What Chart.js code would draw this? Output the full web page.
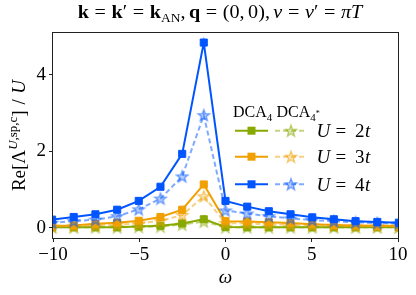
<!DOCTYPE html>
<html><head><meta charset="utf-8">
<script src="https://cdn.jsdelivr.net/npm/chart.js@4.4.1/dist/chart.umd.min.js"></script>
<style>html,body{margin:0;padding:0;background:#fff;}canvas{display:block;}</style>
</head><body>
<canvas id="c" width="416" height="295"></canvas>
<script>
// ---- data ----
const omega     = [-10.05,-8.80,-7.54,-6.28,-5.03,-3.77,-2.51,-1.26,0,1.26,2.51,3.77,5.03,6.28,7.54,8.80,10.05];
const dca4_U2   = [0.01,0.01,0.01,0.01,0.03,0.05,0.11,0.22,0.02,0.01,0.01,0.01,0.01,0.01,0.01,0.01,0.01];
const dca4s_U2  = [0.01,0.01,0.01,0.01,0.02,0.03,0.08,0.16,0.01,0.01,0.01,0.01,0.01,0.01,0.01,0.01,0.01];
const dca4_U3   = [0.05,0.06,0.10,0.13,0.18,0.28,0.47,1.13,0.17,0.16,0.14,0.12,0.09,0.07,0.06,0.05,0.05];
const dca4s_U3  = [0.03,0.04,0.06,0.08,0.11,0.18,0.33,0.82,0.12,0.11,0.09,0.07,0.06,0.05,0.04,0.04,0.03];
const dca4_U4   = [0.21,0.28,0.35,0.47,0.70,1.07,1.93,4.84,0.70,0.55,0.43,0.35,0.27,0.22,0.17,0.15,0.13];
const dca4s_U4  = [0.13,0.17,0.21,0.30,0.48,0.76,1.34,2.94,0.45,0.37,0.30,0.24,0.20,0.17,0.14,0.12,0.11];
const uLabels   = ['2','3','4'];
const xTicks    = [-10,-5,0,5,10];
const yTicks    = [0,2,4];

const SERIF = '"Liberation Serif","DejaVu Serif",serif';
const COLORS = [[136,170,0],[240,160,0],[0,85,255]];
const rgba = (c,a)=>`rgba(${c[0]},${c[1]},${c[2]},${a})`;

function starImg(c, R){
  const s = Math.ceil(2*R+4);
  const cv = document.createElement('canvas'); cv.width = cv.height = s;
  const g = cv.getContext('2d');
  const cx = s/2, cy = s/2 + R*0.08, r = R*0.42;
  g.beginPath();
  for (let k=0;k<10;k++){
    const rad = k%2===0 ? R : r;
    const a = -Math.PI/2 + k*Math.PI/5;
    const px = cx + rad*Math.cos(a), py = cy + rad*Math.sin(a);
    k===0 ? g.moveTo(px,py) : g.lineTo(px,py);
  }
  g.closePath();
  g.fillStyle = rgba(c,0.28); g.fill();
  g.lineWidth = 1.4; g.strokeStyle = rgba(c,0.55); g.stroke();
  return cv;
}
const stars = COLORS.map(c=>starImg(c,6));

const pts = arr => omega.map((x,i)=>({x, y: arr[i]}));
const solidSets = [dca4_U2, dca4_U3, dca4_U4];
const starSets  = [dca4s_U2, dca4s_U3, dca4s_U4];
const datasets = [];
for (let k=0;k<3;k++){
  datasets.push({
    label:'DCA4 U='+uLabels[k]+'t', data: pts(solidSets[k]),
    borderColor: rgba(COLORS[k],1), backgroundColor: rgba(COLORS[k],1),
    borderWidth: 2, pointStyle:'rect', pointRadius:5, pointBorderWidth:1,
    pointBackgroundColor: rgba(COLORS[k],1), pointBorderColor: rgba(COLORS[k],1),
    order: 6-2*k, tension:0
  });
  datasets.push({
    label:'DCA4* U='+uLabels[k]+'t', data: pts(starSets[k]),
    borderColor: rgba(COLORS[k],0.5), backgroundColor: rgba(COLORS[k],0.5),
    borderWidth: 2, borderDash:[5,3], pointStyle: stars[k], pointRadius:6,
    order: 5-2*k, tension:0
  });
}

// rich text helper
function runsWidth(ctx, runs){
  let w=0; for (const r of runs){ if (r.sp!==undefined){ w+=r.sp; continue;} ctx.font=r.f; w+=ctx.measureText(r.t).width; } return w;
}
function drawRuns(ctx, runs, x, y){
  for (const r of runs){
    if (r.sp!==undefined){ x+=r.sp; continue; }
    ctx.font=r.f; ctx.fillText(r.t, x, y+(r.dy||0)); x+=ctx.measureText(r.t).width;
  }
  return x;
}
const mk = size => ({
  n: t=>({t, f:`${size}px ${SERIF}`}),
  b: t=>({t, f:`bold ${size}px ${SERIF}`}),
  i: t=>({t, f:`italic ${size}px ${SERIF}`}),
  s: (t,sz,dy,st)=>({t, f:`${st||''} ${sz}px ${SERIF}`, dy}),
  sp: em=>({sp: em*size})
});

const deco = {
  id:'deco',
  afterDraw(chart){
    const ctx = chart.ctx, a = chart.chartArea;
    ctx.save();
    // frame
    ctx.strokeStyle='#222'; ctx.lineWidth=1;
    ctx.strokeRect(a.left-0.5, a.top-0.5, a.right-a.left+1, a.bottom-a.top+1);
    ctx.fillStyle='#000'; ctx.textBaseline='alphabetic';
    // title
    {
      const m = mk(18);
      const rel = t=>[m.sp(0.28), m.n(t), m.sp(0.28)];
      const runs = [m.b('k'), ...rel('='), m.b('k'), m.n('′'), ...rel('='), m.b('k'), m.s('AN',12,4),
        m.n(','), m.sp(0.17), m.b('q'), ...rel('='), m.n('(0,'), m.sp(0.17), m.n('0)'), m.n(','), m.sp(0.17),
        m.i('ν'), ...rel('='), m.i('ν'), m.n('′'), ...rel('='), m.i('π'), m.i('T')];
      const w = runsWidth(ctx, runs);
      const target = 313;
      const sx = Math.max(0.9, Math.min(1.12, target/w));
      ctx.save(); ctx.translate(220 - w*sx/2, 17.5); ctx.scale(sx,1);
      drawRuns(ctx, runs, 0, 0); ctx.restore();
    }
    // y label
    {
      const m = mk(19);
      const runs = [m.n('Re[Λ'), m.s('U',13,-8,'italic'), m.s(',sp,c',13,-8), m.n(']'), m.sp(0.3), m.n('/'), m.sp(0.3), m.i('U')];
      const w = runsWidth(ctx, runs);
      ctx.save(); ctx.translate(25, (a.top+a.bottom)/2); ctx.rotate(-Math.PI/2);
      drawRuns(ctx, runs, -w/2, 0); ctx.restore();
    }
    // x label
    {
      ctx.font = `italic 19px ${SERIF}`; ctx.textAlign='center';
      ctx.fillText('ω', (a.left+a.right)/2, 283); ctx.textAlign='left';
    }
    // legend
    {
      const hm = mk(16);
      drawRuns(ctx, [hm.n('DCA'), hm.s('4',11,4)], 233, 116.5);
      drawRuns(ctx, [hm.n('DCA'), hm.s('4',11,4), hm.s('*',8,-1)], 276.5, 116.5);
      const rows = [130.7, 156.7, 184.3];
      for (let k=0;k<3;k++){
        const y = rows[k], c = COLORS[k];
        ctx.strokeStyle = rgba(c,1); ctx.lineWidth=2; ctx.setLineDash([]);
        ctx.beginPath(); ctx.moveTo(235,y); ctx.lineTo(268,y); ctx.stroke();
        ctx.fillStyle = rgba(c,1); ctx.fillRect(251.5-4, y-4, 8, 8);
        ctx.strokeStyle = rgba(c,0.5); ctx.setLineDash([5,3]);
        ctx.beginPath(); ctx.moveTo(275,y); ctx.lineTo(307,y); ctx.stroke(); ctx.setLineDash([]);
        const im = stars[k]; ctx.drawImage(im, 291-im.width/2, y-im.height/2);
        ctx.fillStyle='#000';
        ctx.font = `italic 19px ${SERIF}`; ctx.fillText('U', 316.5, y+6.3);
        ctx.font = `19px ${SERIF}`; ctx.fillText('=', 335.5, y+6.3);
        ctx.fillText(uLabels[k], 355, y+6.3);
        const w2 = ctx.measureText(uLabels[k]).width;
        ctx.font = `italic 19px ${SERIF}`; ctx.fillText('t', 355+w2+0.5, y+6.3);
      }
    }
    ctx.restore();
  }
};

const fmt = v => (v<0 ? '\u2212'+Math.abs(v) : String(v));
new Chart(document.getElementById('c'), {
  type:'line',
  data:{ datasets },
  options:{
    responsive:false, animation:false, devicePixelRatio:1, events:[],
    layout:{ padding:{ top:33, right:18, left:0, bottom:0 } },
    plugins:{ legend:{display:false}, title:{display:false}, tooltip:{enabled:false} },
    scales:{
      x:{ type:'linear', min:-10, max:10,
        afterBuildTicks: s=>{ s.ticks = xTicks.map(v=>({value:v})); },
        afterFit: s=>{ s.height = 57; },
        ticks:{ color:'#000', font:{family:SERIF, size:19}, padding:2, maxRotation:0, callback: fmt },
        grid:{ drawOnChartArea:false, drawTicks:true, tickLength:4, color:'#222', tickColor:'#222', tickWidth:1 },
        border:{ display:false }
      },
      y:{ type:'linear', min:-0.27, max:5.09,
        afterBuildTicks: s=>{ s.ticks = yTicks.map(v=>({value:v})); },
        afterFit: s=>{ s.width = 53; },
        ticks:{ color:'#000', font:{family:SERIF, size:19}, padding:3, callback: fmt },
        grid:{ drawOnChartArea:false, drawTicks:true, tickLength:4, color:'#222', tickColor:'#222', tickWidth:1 },
        border:{ display:false }
      }
    }
  },
  plugins:[deco]
});
</script>
</body></html>
